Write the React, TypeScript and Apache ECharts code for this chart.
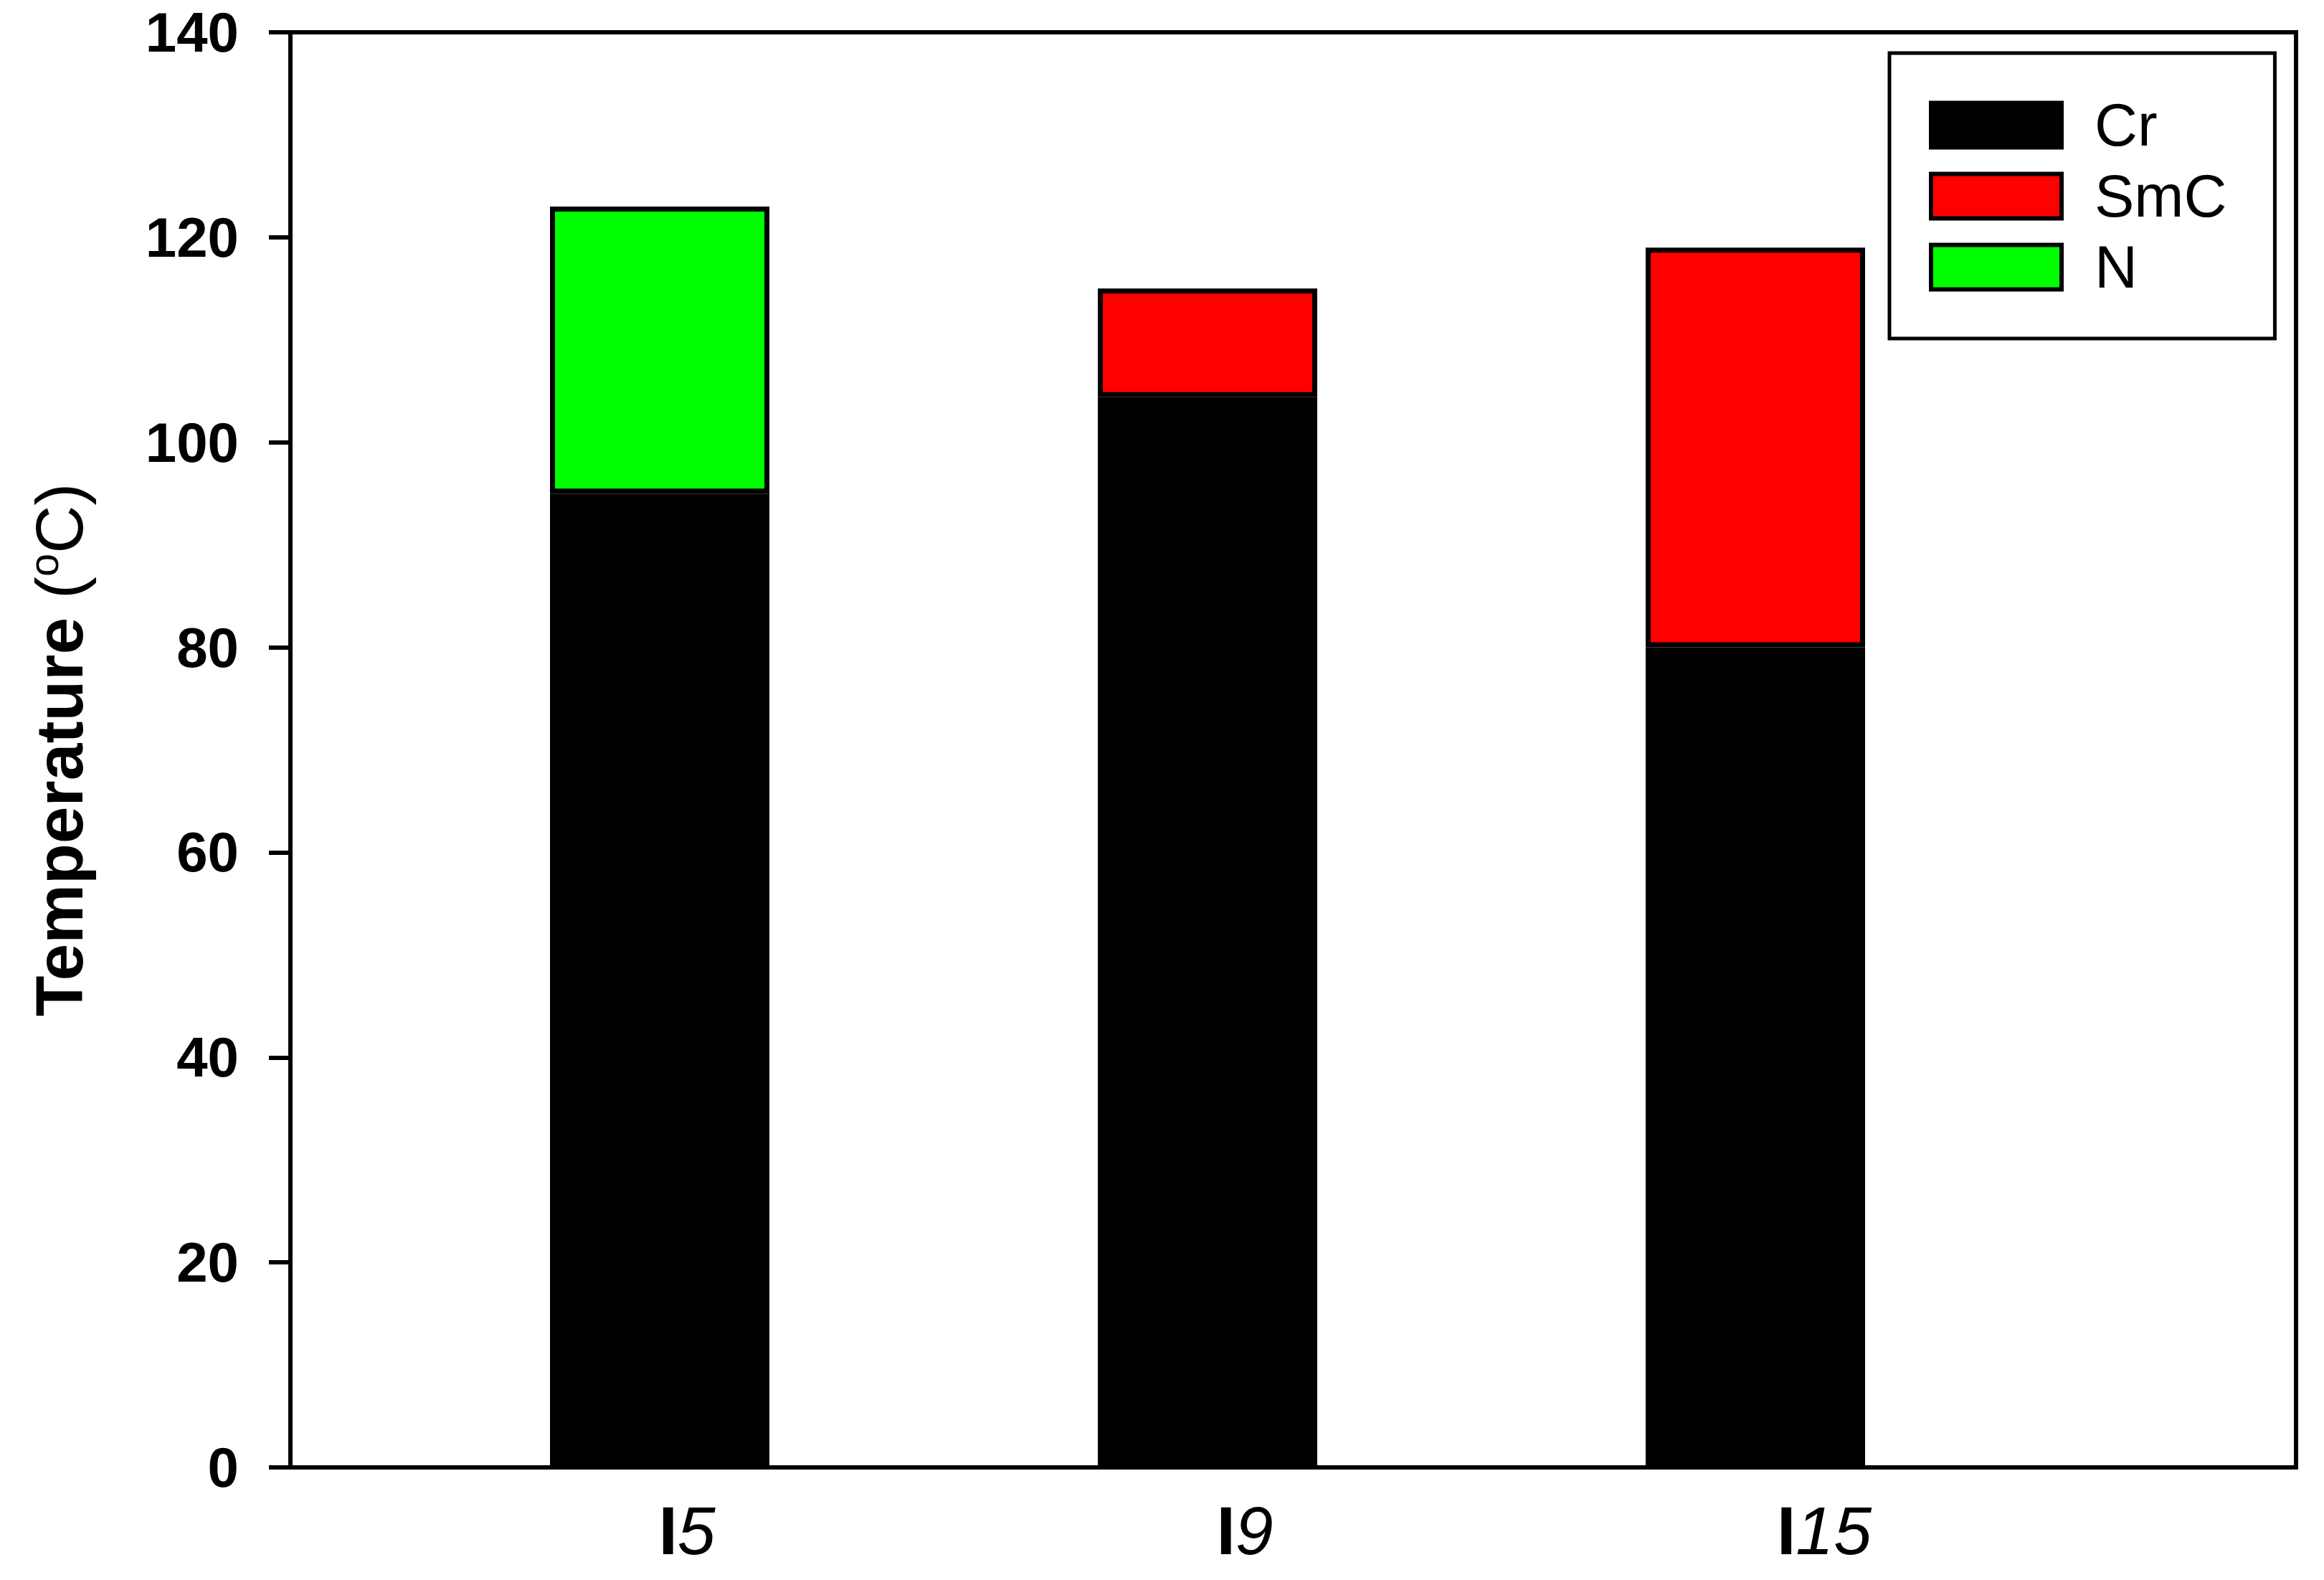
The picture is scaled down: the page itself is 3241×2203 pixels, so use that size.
import React, { useEffect, useRef } from "react";
import * as echarts from "echarts";

const categories = ["I5", "I9", "I15"];
const crValues = [95.0, 104.4, 80.0];
const smcValues: (number | null)[] = [null, 10.6, 39.0];
const nValues: (number | null)[] = [28.0, null, null];
const seriesNames = ["Cr", "SmC", "N"];
const seriesColors = ["#000000", "#ff0000", "#00ff00"];
const yMin = 0;
const yMax = 140;
const yInterval = 20;
const yTitleMain = "Temperature";
const yTitleUnit = "C";
// horizontal shift of each x label relative to its bar (px)
const labelShift = [38, 52, 96];

const FONT = "Liberation Sans, Arial, sans-serif";

export default function App() {
  const ref = useRef<HTMLDivElement>(null);
  useEffect(() => {
    if (!ref.current) return;
    const chart = echarts.init(ref.current, null, { renderer: "svg" });
    const values = [crValues, smcValues, nValues];
    const rich: any = {
      u: { fontFamily: FONT, fontSize: 95, fontWeight: "bold", color: "#000" },
      d: { fontFamily: FONT, fontSize: 95, fontStyle: "italic", color: "#000" },
    };
    labelShift.forEach((s, i) => {
      rich["sp" + i] = { width: s * 2, height: 10 };
    });
    chart.setOption({
      animation: false,
      backgroundColor: "#ffffff",
      grid: [
        { left: 405, top: 45, width: 2797, height: 2001, show: true, borderColor: "#000", borderWidth: 6, backgroundColor: "transparent" },
        { left: 538, top: 45, width: 2292, height: 2001 },
      ],
      legend: {
        orient: "vertical",
        left: 2635,
        top: 74,
        padding: [59, 67, 58, 55],
        itemWidth: 182,
        itemHeight: 62,
        itemGap: 16,
        icon: "rect",
        borderColor: "#000",
        borderWidth: 5,
        backgroundColor: "#fff",
        itemStyle: { borderColor: "#000", borderWidth: 6 },
        textStyle: { fontFamily: FONT, fontSize: 83, color: "#000", padding: [0, 0, 0, 41] },
        data: seriesNames,
      },
      xAxis: [
        { type: "value", gridIndex: 0, show: false, min: 0, max: 1 },
        {
          type: "category",
          gridIndex: 1,
          data: categories,
          axisLine: { show: false },
          axisTick: { show: false },
          axisLabel: {
            margin: 40,
            formatter: (v: string, i: number) => `{sp${i}|}{u|${v.charAt(0)}}{d|${v.slice(1)}}`,
            rich,
          },
        },
      ],
      yAxis: [
        {
          type: "value",
          gridIndex: 0,
          min: yMin,
          max: yMax,
          interval: yInterval,
          splitLine: { show: false },
          axisLine: { show: true, lineStyle: { color: "#000", width: 6 } },
          axisTick: { show: true, inside: false, length: 30, lineStyle: { color: "#000", width: 6 } },
          axisLabel: { margin: 72, fontFamily: FONT, fontSize: 78, fontWeight: "bold", color: "#000" },
          name: `{b|${yTitleMain} }{r|(}{s|o}{r|${yTitleUnit})}`,
          nameLocation: "middle",
          nameRotate: 90,
          nameGap: 276,
          nameTextStyle: {
            rich: {
              b: { fontFamily: FONT, fontSize: 93, fontWeight: "bold", color: "#000", verticalAlign: "bottom" },
              r: { fontFamily: FONT, fontSize: 93, color: "#000", verticalAlign: "bottom" },
              s: { fontFamily: FONT, fontSize: 58, color: "#000", verticalAlign: "bottom", padding: [0, 0, 40, 0] },
            },
          },
        },
        { type: "value", gridIndex: 1, min: yMin, max: yMax, interval: yInterval, show: false },
      ],
      series: seriesNames.map((name, k) => ({
        name,
        type: "bar",
        stack: "total",
        xAxisIndex: 1,
        yAxisIndex: 1,
        barWidth: 306,
        data: values[k],
        itemStyle: { color: seriesColors[k], borderColor: "#000", borderWidth: 7 },
      })),
    });
    return () => chart.dispose();
  }, []);
  return (
    <div
      ref={ref}
      style={{ position: "absolute", left: 0, top: 0, width: 3241, height: 2203, background: "#fff" }}
    />
  );
}
